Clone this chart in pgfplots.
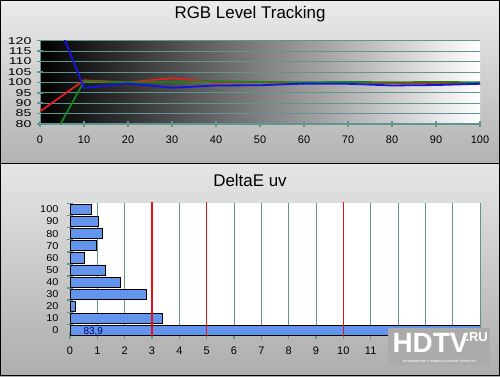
\documentclass[border=0pt]{standalone}
\usepackage{pgfplots}
\pgfplotsset{compat=1.18}
\usepackage{fontspec}
\setmainfont{Liberation Sans}
\usepackage{graphicx}
\definecolor{gridteal}{RGB}{95,150,145}
\definecolor{barblue}{RGB}{100,149,237}
\definecolor{pred}{RGB}{225,30,30}
\definecolor{pgreen}{RGB}{25,130,30}
\definecolor{pblue}{RGB}{20,20,225}
\definecolor{limred}{RGB}{230,20,20}
\begin{document}
\begin{tikzpicture}[x=1bp,y=1bp]
\useasboundingbox (0,0) rectangle (500,376);
% panels
\shade[top color=black!8, bottom color=black!30] (0,213) rectangle (500,376);
\shade[top color=black!10, bottom color=black!32] (0,0) rectangle (500,212);
\draw[black, line width=1.5bp] (0,212.5) -- (500,212.5);
\draw[black, line width=1.2bp] (0.6,0.6) rectangle (499.4,375.4);
\node[font=\fontsize{17}{17}\selectfont] at (250,362) {RGB Level Tracking};
\node[font=\fontsize{17}{17}\selectfont] at (250,196) {DeltaE uv};
% top axis
\begin{axis}[
  at={(40bp,335.3bp)}, anchor=north west,
  scale only axis, width=440bp, height=83.3bp,
  xmin=0, xmax=100, ymin=80, ymax=120,
  xtick={0,10,...,100}, ytick={80,85,...,120},
  axis lines*=left,
  axis line style={gridteal, line width=1bp},
  tick style={gridteal, line width=1.5bp},
  tick align=center, major tick length=6bp,
  ymajorgrids, major grid style={gridteal, line width=0.8bp},
  axis background/.style={left color=black, right color=white},
  /pgf/number format/assume math mode=true,
  xticklabel style={font=\fontsize{11}{11}\selectfont, yshift=-5bp},
  yticklabel style={font=\fontsize{15}{15}\selectfont, xshift=-2bp},
  yticklabel={\scalebox{0.95}[0.66]{\pgfmathprintnumber{\tick}}},
]
\addplot[pred, line width=1.8bp] coordinates {(0,86)(10,101)(20,100)(30,102)(40,100)(50,100)(60,99.5)(70,100)(80,99.5)(90,99.5)(100,99.5)};
\addplot[pgreen, line width=1.8bp] coordinates {(0,62)(10,100.5)(20,100)(30,100)(40,100.5)(50,100.2)(60,100)(70,100.2)(80,100)(90,100.2)(100,100)};
\addplot[pblue, line width=1.8bp] coordinates {(0,150)(10,97.3)(20,99.5)(30,97.4)(40,98.5)(50,98.6)(60,99.4)(70,99.3)(80,98.5)(90,98.7)(100,99.3)};
\end{axis}
% bottom axis
\begin{axis}[
  at={(70bp,173.3bp)}, anchor=north west,
  scale only axis, width=410bp, height=133bp,
  xmin=0, xmax=15, ymin=-0.43, ymax=10.56,
  xtick={0,1,...,15}, ytick={0,1,...,10},
  minor xtick={0,1,...,15},
  minor ytick={-0.5,0.5,...,10.5},
  axis lines*=left,
  axis line style={gridteal, line width=1bp},
  tick style={gridteal, line width=1.5bp},
  tick align=center, major tick length=0bp, minor tick length=6bp,
  xmajorgrids, major grid style={gridteal, line width=0.8bp},
  axis background/.style={fill=white},
  /pgf/number format/assume math mode=true,
  xticklabel style={font=\fontsize{11}{11}\selectfont, yshift=-8bp},
  yticklabel style={font=\fontsize{11}{11}\selectfont, xshift=-8bp},
  yticklabel={\scalebox{1}[0.9]{\pgfmathparse{int(round(\tick*10))}\pgfmathresult}},
]
\addplot[xbar, fill=barblue, draw=black, line width=0.8bp, bar width=0.83] coordinates {(83.9,0)(3.38,1)(0.19,2)(2.81,3)(1.84,4)(1.31,5)(0.52,6)(0.98,7)(1.18,8)(1.04,9)(0.79,10)};
\addplot[limred, line width=1.5bp, forget plot] coordinates {(3,-0.6)(3,11)};
\addplot[limred, line width=1.5bp, forget plot] coordinates {(5,-0.6)(5,11)};
\addplot[limred, line width=1.5bp, forget plot] coordinates {(10,-0.6)(10,11)};
\node[text=blue!40!black, font=\fontsize{10}{10}\selectfont] at (axis cs:0.85,-0.1) {83,9};
\end{axis}
% watermark
\fill[black!30!white!85!gray] (388,11) rectangle (490,48);
\node[text=white, font=\bfseries\fontsize{28}{28}\selectfont, anchor=west] at (389,33) {HDTV};
\node[text=white, font=\bfseries\fontsize{13}{13}\selectfont, anchor=west] at (462,39) {.RU};
\node[text=white, font=\fontsize{4}{4}\selectfont] at (439,15) {телевидение и видео высокой четкости};
\end{tikzpicture}
\end{document}
